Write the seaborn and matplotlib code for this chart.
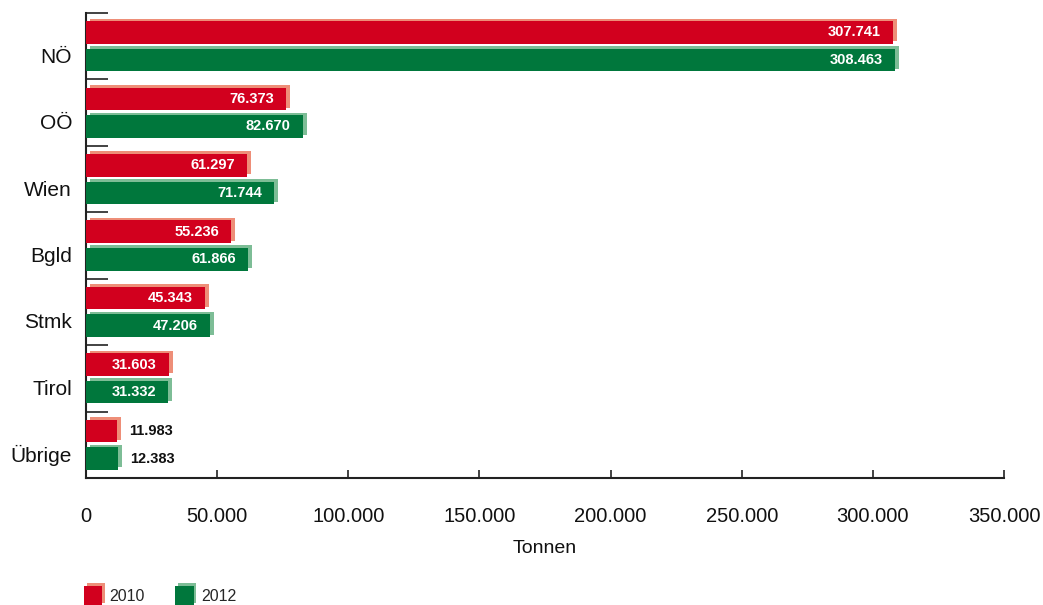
import numpy as np
import pandas as pd
import seaborn as sns
import matplotlib.pyplot as plt
import matplotlib.transforms as mtransforms
from matplotlib.patches import Rectangle
from matplotlib.legend_handler import HandlerBase
from matplotlib.ticker import FuncFormatter, FixedLocator

regions = ["NÖ", "OÖ", "Wien", "Bgld", "Stmk", "Tirol", "Übrige"]
years = ["2010", "2012"]
tonnen_2010 = [307741, 76373, 61297, 55236, 45343, 31603, 11983]
tonnen_2012 = [308463, 82670, 71744, 61866, 47206, 31332, 12383]
x_ticks = [0, 50000, 100000, 150000, 200000, 250000, 300000, 350000]

face = {"2010": "#D2001E", "2012": "#00773C"}
bevel = {"2010": "#EE8E78", "2012": "#7DBD96"}

df = pd.DataFrame({
    "Region": regions * 2,
    "Jahr": [years[0]] * len(regions) + [years[1]] * len(regions),
    "Tonnen": tonnen_2010 + tonnen_2012,
})


def de_num(v):
    return f"{int(round(v)):,}".replace(",", ".")


sns.set_theme(style="white")
plt.rcParams["font.family"] = ["Liberation Sans", "DejaVu Sans"]

fig = plt.figure(figsize=(10.43, 6.05), dpi=100)
ax = fig.add_axes([86 / 1043, 1 - 478 / 605, 918 / 1043, 465 / 605])

sns.barplot(data=df, y="Region", x="Tonnen", hue="Jahr", hue_order=years,
            palette=face, saturation=1, width=0.83, gap=0.18, orient="h",
            legend=False, ax=ax, zorder=3, linewidth=0, edgecolor="none")

# light bevel drawn as an offset copy behind each bar
shift = mtransforms.offset_copy(ax.transData, fig=fig, x=4, y=2.5, units="dots")
for year, cont in zip(years, ax.containers):
    for p in cont:
        ax.add_patch(Rectangle(p.get_xy(), p.get_width(), p.get_height(),
                               transform=shift, facecolor=bevel[year],
                               edgecolor="none", linewidth=0, zorder=2))

# value labels
for cont in ax.containers:
    for p in cont:
        v = p.get_width()
        yc = p.get_y() + p.get_height() / 2
        if v > 20000:
            ax.annotate(de_num(v), xy=(v, yc), xytext=(-12, 0),
                        textcoords="offset pixels", ha="right", va="center",
                        color="white", fontsize=10.5, fontweight="bold", zorder=5)
        else:
            ax.annotate(de_num(v), xy=(v, yc), xytext=(12, 0),
                        textcoords="offset pixels", ha="left", va="center",
                        color="#111111", fontsize=10.5, fontweight="bold", zorder=5)

ax.set_xlim(0, 350000)
ax.set_ylim(len(regions) - 0.5, -0.5)
ax.xaxis.set_major_locator(FixedLocator(x_ticks))
ax.xaxis.set_major_formatter(FuncFormatter(lambda v, _: de_num(v)))
ax.tick_params(axis="x", direction="in", length=6, width=1.2, color="#222222",
               pad=21, labelsize=14.5, labelcolor="#111111", bottom=True)

ax.set_yticks(range(len(regions)))
ax.set_yticklabels(regions)
ax.set_yticks(np.arange(-0.5, len(regions), 1.0), minor=True)
ax.tick_params(axis="y", which="major", length=0, pad=10, labelsize=15,
               labelcolor="#111111")
ax.tick_params(axis="y", which="minor", direction="in", length=16, width=1.2,
               color="#222222", left=True)
# category names sit slightly below the group centre
lower = mtransforms.ScaledTranslation(0, -9 / 100, fig.dpi_scale_trans)
for lbl in ax.get_yticklabels():
    lbl.set_transform(lbl.get_transform() + lower)

ax.set_xlabel("Tonnen", fontsize=14, color="#111111", labelpad=10)
ax.set_ylabel("")

for side in ("top", "right"):
    ax.spines[side].set_visible(False)
for side in ("left", "bottom"):
    ax.spines[side].set_color("#222222")
    ax.spines[side].set_linewidth(1.5)
ax.grid(False)


class BevelHandler(HandlerBase):
    def __init__(self, front, back):
        super().__init__()
        self.front, self.back = front, back

    def create_artists(self, legend, orig_handle, xdescent, ydescent,
                       width, height, fontsize, trans):
        back = Rectangle((-xdescent + 2, -ydescent + 2), width, height,
                         facecolor=self.back, edgecolor="none", transform=trans)
        front = Rectangle((-xdescent, -ydescent), width, height,
                          facecolor=self.front, edgecolor="none", transform=trans)
        return [back, front]


handles = [Rectangle((0, 0), 1, 1) for _ in years]
fig.legend(handles, years, loc="upper left",
           bbox_to_anchor=(84 / 1043, 1 - 586 / 605), ncol=2, frameon=False,
           borderpad=0, borderaxespad=0, fontsize=11.5, handlelength=1.15,
           handleheight=1.5, handletextpad=0.45, columnspacing=1.9,
           handler_map={h: BevelHandler(face[y], bevel[y])
                        for h, y in zip(handles, years)})

fig.savefig("out.png", dpi=100)
